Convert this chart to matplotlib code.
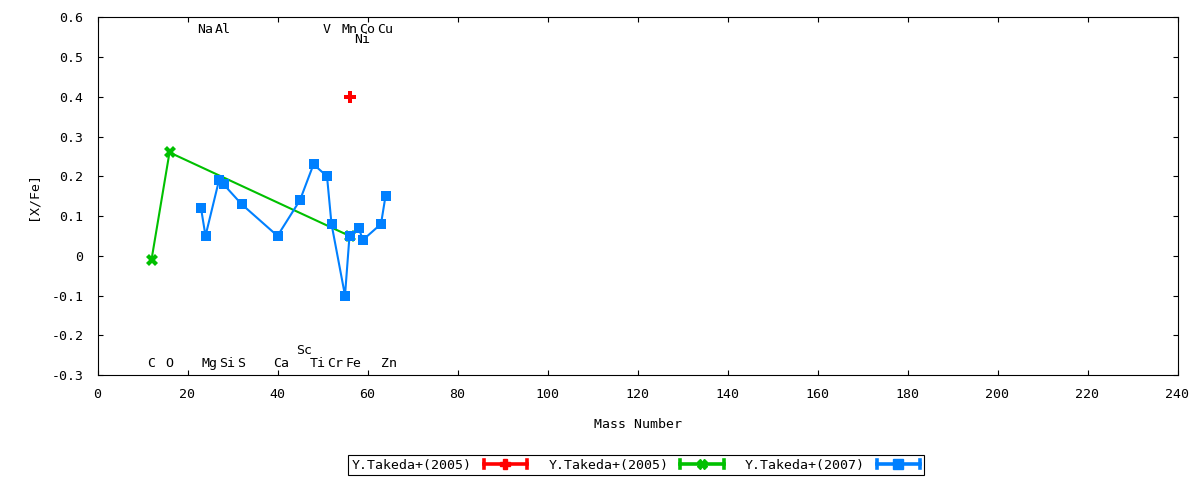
import numpy as np
import matplotlib.pyplot as plt
from matplotlib.lines import Line2D
from matplotlib.legend_handler import HandlerBase

plt.rcParams['font.family'] = ['DejaVu Sans Mono']
plt.rcParams['font.size'] = 9.5
plt.rcParams['axes.unicode_minus'] = False

# Y.Takeda+(2005), red
red_mass = [56]
red_xfe = [0.40]

# Y.Takeda+(2005), green
green_mass = [12, 16, 56]
green_xfe = [-0.01, 0.26, 0.05]

# Y.Takeda+(2007), blue
blue_mass = [23, 24, 27, 28, 32, 40, 45, 48, 51, 52, 55, 56, 58, 59, 63, 64]
blue_xfe = [0.12, 0.05, 0.19, 0.18, 0.13, 0.05, 0.14, 0.23, 0.20, 0.08,
            -0.10, 0.05, 0.07, 0.04, 0.08, 0.15]

# element labels
top_elem = ['Na', 'Al', 'V', 'Mn', 'Co', 'Cu']
top_mass = [23, 27, 51, 55, 59, 63]
bottom_elem = ['C', 'O', 'Mg', 'Si', 'S', 'Ca', 'Ti', 'Cr', 'Fe', 'Zn']
bottom_mass = [12, 16, 24, 28, 32, 40, 48, 52, 56, 64]
shifted_elem = ['Ni', 'Sc']
shifted_mass = [58, 45]
shifted_y = [0.545, -0.238]

x_ticks = list(range(0, 241, 20))
y_ticks = [-0.3, -0.2, -0.1, 0, 0.1, 0.2, 0.3, 0.4, 0.5, 0.6]
y_ticklabels = ['-0.3', '-0.2', '-0.1', '0', '0.1', '0.2', '0.3', '0.4', '0.5', '0.6']

RED = '#ff0000'
GREEN = '#00c000'
BLUE = '#0080ff'


class ErrorbarKey(HandlerBase):
    # gnuplot style key sample: thick line with end caps and the point in the middle
    def create_artists(self, legend, orig_handle, xdescent, ydescent,
                       width, height, fontsize, trans):
        c = orig_handle.get_color()
        y = height / 2 - ydescent
        x0, x1 = -xdescent, width - xdescent
        cap = 3.0
        line = Line2D([x0, x1], [y, y], color=c, lw=2.6)
        caps = Line2D([x0, x0, np.nan, x1, x1], [y - cap, y + cap, np.nan, y - cap, y + cap],
                      color=c, lw=2.6)
        mark = Line2D([(x0 + x1) / 2], [y], marker=orig_handle.get_marker(),
                      markersize=6.5, color=c, linestyle='none')
        for a in (line, caps, mark):
            a.set_transform(trans)
        return [line, caps, mark]


fig = plt.figure(figsize=(12, 4.8), dpi=100)
ax = fig.add_axes([97.5 / 1200, 1 - 375 / 480, (1177.5 - 97.5) / 1200, (375 - 17.3) / 480])

h_red, = ax.plot(red_mass, red_xfe, color=RED, linestyle='none', marker='P',
                 markersize=8.5, markeredgewidth=0, label='Y.Takeda+(2005)', zorder=3)
h_green, = ax.plot(green_mass, green_xfe, color=GREEN, lw=1.5, marker='X',
                   markersize=9, markeredgewidth=0, label='Y.Takeda+(2005)', zorder=2)
h_blue, = ax.plot(blue_mass, blue_xfe, color=BLUE, lw=1.5, marker='s',
                  markersize=7.8, markeredgewidth=0, label='Y.Takeda+(2007)', zorder=2)

for el, m in zip(top_elem, top_mass):
    ax.annotate(el, (m, 0.57), xytext=(-4, 0), textcoords='offset pixels',
                ha='left', va='center')
for el, m in zip(bottom_elem, bottom_mass):
    ax.annotate(el, (m, -0.272), xytext=(-4, 0), textcoords='offset pixels',
                ha='left', va='center')
for el, m, yy in zip(shifted_elem, shifted_mass, shifted_y):
    ax.annotate(el, (m, yy), xytext=(-4, 0), textcoords='offset pixels',
                ha='left', va='center')

ax.set_xlim(0, 240)
ax.set_ylim(-0.3, 0.6)
ax.set_xticks(x_ticks)
ax.set_yticks(y_ticks)
ax.set_yticklabels(y_ticklabels)
ax.tick_params(direction='in', length=3.5, width=0.8, top=True, right=True,
               colors='black')
ax.tick_params(axis='x', pad=9)
ax.tick_params(axis='y', pad=10)
for sp in ax.spines.values():
    sp.set_linewidth(0.8)

ax.set_xlabel('Mass Number')
ax.set_ylabel('[X/Fe]')
ax.xaxis.set_label_coords(0.5, (375 - 425) / 357.7)
ax.xaxis.label.set_va('center')
ax.yaxis.set_label_coords((33 - 97.5) / 1080, 0.5)
ax.yaxis.label.set_va('center')

leg = ax.legend(handles=[h_red, h_green, h_blue], ncol=3, loc='center',
                bbox_to_anchor=(636 / 1200, 15 / 480), bbox_transform=fig.transFigure,
                markerfirst=False, handlelength=3.3, handletextpad=0.9,
                columnspacing=1.6, fancybox=False, framealpha=1, edgecolor='black',
                borderpad=0.25, borderaxespad=0, handler_map={Line2D: ErrorbarKey()})
leg.get_frame().set_linewidth(0.8)

fig.savefig('out.png', dpi=100)
